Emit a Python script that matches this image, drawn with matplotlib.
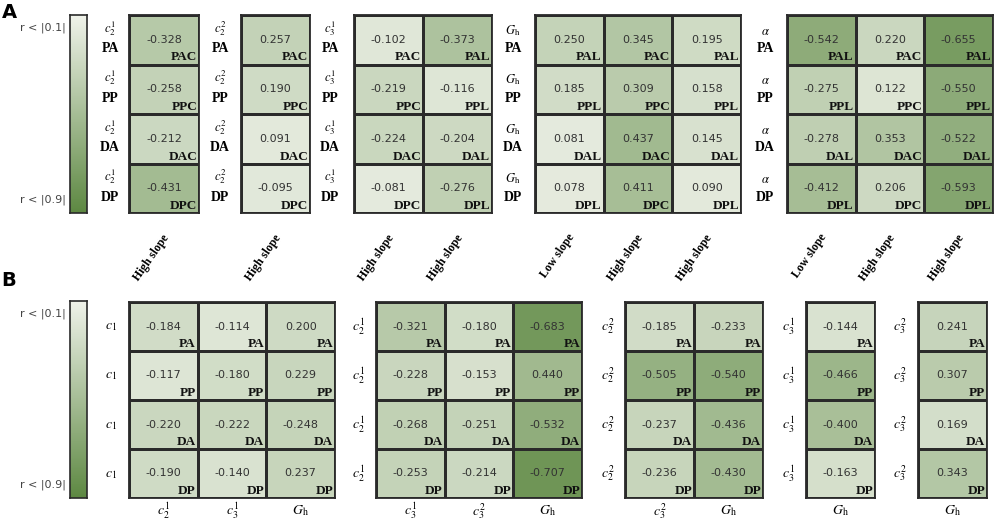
import numpy as np
import matplotlib
matplotlib.use("Agg")
import matplotlib.pyplot as plt
from matplotlib.colors import LinearSegmentedColormap, Normalize

plt.rcParams['mathtext.fontset'] = 'stix'

W, H = 996, 521

# ---------------- data: panel A ----------------
a1_vals = [[-0.328], [-0.258], [-0.212], [-0.431]]
a1_tags = [["PAC"], ["PPC"], ["DAC"], ["DPC"]]
a2_vals = [[0.257], [0.190], [0.091], [-0.095]]
a2_tags = [["PAC"], ["PPC"], ["DAC"], ["DPC"]]
a3_vals = [[-0.102, -0.373], [-0.219, -0.116], [-0.224, -0.204], [-0.081, -0.276]]
a3_tags = [["PAC", "PAL"], ["PPC", "PPL"], ["DAC", "DAL"], ["DPC", "DPL"]]
a4_vals = [[0.250, 0.345, 0.195], [0.185, 0.309, 0.158],
           [0.081, 0.437, 0.145], [0.078, 0.411, 0.090]]
a4_tags = [["PAL", "PAC", "PAL"], ["PPL", "PPC", "PPL"],
           ["DAL", "DAC", "DAL"], ["DPL", "DPC", "DPL"]]
a5_vals = [[-0.542, 0.220, -0.655], [-0.275, 0.122, -0.550],
           [-0.278, 0.353, -0.522], [-0.412, 0.206, -0.593]]
a5_tags = [["PAL", "PAC", "PAL"], ["PPL", "PPC", "PPL"],
           ["DAL", "DAC", "DAL"], ["DPL", "DPC", "DPL"]]
a_rows = ["PA", "PP", "DA", "DP"]

# ---------------- data: panel B ----------------
b1_vals = [[-0.184, -0.114, 0.200], [-0.117, -0.180, 0.229],
           [-0.220, -0.222, -0.248], [-0.190, -0.140, 0.237]]
b2_vals = [[-0.321, -0.180, -0.683], [-0.228, -0.153, 0.440],
           [-0.268, -0.251, -0.532], [-0.253, -0.214, -0.707]]
b3_vals = [[-0.185, -0.233], [-0.505, -0.540], [-0.237, -0.436], [-0.236, -0.430]]
b4_vals = [[-0.144], [-0.466], [-0.400], [-0.163]]
b5_vals = [[0.241], [0.307], [0.169], [0.343]]
b_tags = ["PA", "PP", "DA", "DP"]

cmap = LinearSegmentedColormap.from_list("gr", ["#f3f5ee", "#4b7b2d"])
norm = Normalize(0, 0.9)

serif = ['Liberation Serif', 'DejaVu Serif']

fig = plt.figure(figsize=(W / 100, H / 100), dpi=100)


def px_axes(x0, y0, x1, y1):
    return fig.add_axes([x0 / W, 1 - y1 / H, (x1 - x0) / W, (y1 - y0) / H])


def draw_block(x0, y0, x1, y1, vals, tags):
    vals = np.array(vals)
    nr, nc = vals.shape
    ax = px_axes(x0, y0, x1, y1)
    ax.pcolormesh(np.abs(vals), cmap=cmap, norm=norm,
                  edgecolors='#2a2a2a', linewidth=0.9)
    ax.set_xlim(0, nc)
    ax.set_ylim(nr, 0)
    ax.set_xticks([])
    ax.set_yticks([])
    for s in ax.spines.values():
        s.set_linewidth(1.3)
        s.set_color('#2a2a2a')
    for i in range(nr):
        for j in range(nc):
            ax.text(j + 0.5, i + 0.5, f"{vals[i, j]:.3f}", ha='center', va='center',
                    fontsize=8, color='#333333', family='DejaVu Sans')
            ax.annotate(tags[i][j], (j + 1, i + 1), xytext=(-2, 1),
                        textcoords='offset pixels', ha='right', va='bottom',
                        fontsize=9.5, fontweight='bold', family=serif, color='#111111')
    return ax


def colorbar(y0, y1):
    ax = px_axes(70, y0, 87, y1)
    grad = np.linspace(0.02, 0.8, 200).reshape(-1, 1)
    ax.imshow(grad, aspect='auto', cmap=cmap, norm=norm, extent=(0, 1, 1, 0))
    ax.set_xticks([])
    ax.set_yticks([])
    for s in ax.spines.values():
        s.set_linewidth(1.2)
        s.set_color('#2a2a2a')
    fig.text(66 / W, 1 - (y0 + 13) / H, "r < |0.1|", ha='right', va='center',
             fontsize=8, color='#444444')
    fig.text(66 / W, 1 - (y1 - 13) / H, "r < |0.9|", ha='right', va='center',
             fontsize=8, color='#444444')


def px_text(x, y, s, **kw):
    fig.text(x / W, 1 - y / H, s, **kw)


# ---------------- panel A ----------------
px_text(9, 12, "A", fontsize=14, fontweight='bold', ha='center', va='center')
colorbar(15, 213)

ay0, ay1 = 15, 213
rh = (ay1 - ay0) / 4
blocks_a = [
    (129, 199, a1_vals, a1_tags, 110, r"$c_2^1$", ["High slope"]),
    (241, 310, a2_vals, a2_tags, 220, r"$c_2^2$", ["High slope"]),
    (354, 492, a3_vals, a3_tags, 330, r"$c_3^1$", ["High slope", "High slope"]),
    (535, 741, a4_vals, a4_tags, 513, r"$G_{\mathrm{h}}$", ["Low slope", "High slope", "High slope"]),
    (787, 993, a5_vals, a5_tags, 765, r"$\alpha$", ["Low slope", "High slope", "High slope"]),
]
for x0, x1, vals, tags, lx, lab, xt in blocks_a:
    draw_block(x0, ay0, x1, ay1, vals, tags)
    for i, rname in enumerate(a_rows):
        cy = ay0 + rh * (i + 0.5)
        px_text(lx, cy - 2, lab, ha='center', va='bottom', fontsize=9)
        px_text(lx, cy + 9, rname, ha='center', va='center', fontsize=10,
                fontweight='bold', family=serif)
    cw = (x1 - x0) / len(xt)
    for j, t in enumerate(xt):
        cx = x0 + cw * (j + 0.5)
        px_text(cx + 8, 232, t, ha='right', va='top', rotation=55,
                fontsize=8.5, fontweight='bold', family=serif)

# ---------------- panel B ----------------
px_text(9, 280, "B", fontsize=14, fontweight='bold', ha='center', va='center')
colorbar(301, 498)

by0, by1 = 302, 498
rhb = (by1 - by0) / 4
blocks_b = [
    (129, 335, b1_vals, 111, r"$c_1$", [r"$c_2^1$", r"$c_3^1$", r"$G_{\mathrm{h}}$"]),
    (376, 582, b2_vals, 358, r"$c_2^1$", [r"$c_3^1$", r"$c_3^2$", r"$G_{\mathrm{h}}$"]),
    (625, 763, b3_vals, 608, r"$c_2^2$", [r"$c_3^2$", r"$G_{\mathrm{h}}$"]),
    (806, 875, b4_vals, 788, r"$c_3^1$", [r"$G_{\mathrm{h}}$"]),
    (918, 987, b5_vals, 900, r"$c_3^2$", [r"$G_{\mathrm{h}}$"]),
]
for x0, x1, vals, lx, lab, xt in blocks_b:
    nc = len(vals[0])
    tags = [[t] * nc for t in b_tags]
    draw_block(x0, by0, x1, by1, vals, tags)
    for i in range(4):
        cy = by0 + rhb * (i + 0.5)
        px_text(lx, cy, lab, ha='center', va='center', fontsize=10)
    cw = (x1 - x0) / nc
    for j, t in enumerate(xt):
        px_text(x0 + cw * (j + 0.5), 511, t, ha='center', va='center', fontsize=10)

fig.savefig("out.png", dpi=100)
